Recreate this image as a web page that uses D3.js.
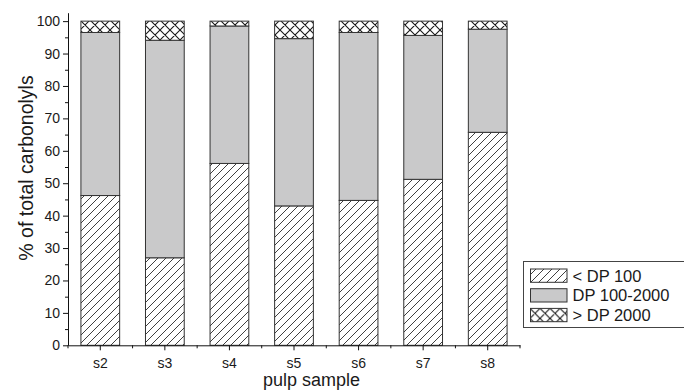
<!DOCTYPE html>
<html>
<head>
<meta charset="utf-8">
<script src="https://cdn.jsdelivr.net/npm/d3@7"></script>
<style>
  html, body { margin: 0; padding: 0; background: #fff; }
  svg { display: block; font-family: "Liberation Sans", Arial, sans-serif; }
</style>
</head>
<body>
<svg id="chart" width="684" height="390"></svg>
<script>
// Pulp samples and the share of carbonyls in each DP fraction (%)
const samples = ["s2", "s3", "s4", "s5", "s6", "s7", "s8"];
const lowDP   = [46.2, 27.0, 56.1, 43.0, 44.7, 51.2, 65.7];   // < DP 100
const midDP   = [50.3, 67.1, 42.4, 51.6, 51.8, 44.4, 31.8];   // DP 100-2000
const highDP  = [3.5, 5.9, 1.5, 5.4, 3.5, 4.4, 2.5];          // > DP 2000
const seriesNames = ["< DP 100", "DP 100-2000", "> DP 2000"];
const yMajorTicks = [0, 10, 20, 30, 40, 50, 60, 70, 80, 90, 100];
const yMinorTicks = [5, 15, 25, 35, 45, 55, 65, 75, 85, 95];

const svg = d3.select("#chart");

// Fill patterns
const defs = svg.append("defs");
const hatch = defs.append("pattern")
  .attr("id", "hatch").attr("patternUnits", "userSpaceOnUse")
  .attr("width", 8).attr("height", 8);
hatch.append("rect").attr("width", 8).attr("height", 8).attr("fill", "#fff");
hatch.append("path")
  .attr("d", "M-2,2 L2,-2 M0,8 L8,0 M6,10 L10,6")
  .attr("stroke", "#2a2a2a").attr("stroke-width", 0.9);

const cross = defs.append("pattern")
  .attr("id", "cross").attr("patternUnits", "userSpaceOnUse")
  .attr("width", 10).attr("height", 10);
cross.append("rect").attr("width", 10).attr("height", 10).attr("fill", "#fff");
cross.append("path")
  .attr("d", "M-2.5,2.5 L2.5,-2.5 M0,10 L10,0 M7.5,12.5 L12.5,7.5 M-2.5,7.5 L2.5,12.5 M0,0 L10,10 M7.5,-2.5 L12.5,2.5")
  .attr("stroke", "#1a1a1a").attr("stroke-width", 1.1);

const fills = ["url(#hatch)", "#c9c9ca", "url(#cross)"];

// Scales
const x = d3.scaleBand().domain(samples).range([68, 520])
  .paddingInner(0.4).paddingOuter(0.2);
const y = d3.scaleLinear().domain([0, 102.6]).range([345.3, 12.7]);

// Stacked data
const rows = samples.map((s, i) => ({ sample: s, low: lowDP[i], mid: midDP[i], high: highDP[i] }));
const stack = d3.stack().keys(["low", "mid", "high"])(rows);

const layers = svg.append("g").selectAll("g")
  .data(stack).join("g")
  .attr("fill", (d, i) => fills[i]);

layers.selectAll("rect")
  .data(d => d).join("rect")
  .attr("x", d => x(d.data.sample))
  .attr("width", x.bandwidth())
  .attr("y", d => y(d[1]))
  .attr("height", d => y(d[0]) - y(d[1]))
  .attr("stroke", "#333")
  .attr("stroke-width", 1);

// Axes
const axisColor = "#111";
svg.append("g").attr("transform", `translate(${x.range()[0]},0)`)
  .call(d3.axisLeft(y).tickValues(yMajorTicks).tickSize(5).tickSizeOuter(0).tickPadding(3));
svg.append("g").attr("transform", `translate(${x.range()[0]},0)`)
  .call(d3.axisLeft(y).tickValues(yMinorTicks).tickSize(3).tickSizeOuter(0).tickFormat(""))
  .select(".domain").remove();

svg.append("g").attr("transform", `translate(0,${y(0)})`)
  .call(d3.axisBottom(x).tickSize(5).tickSizeOuter(0).tickPadding(8));

// Minor ticks on the category boundaries
const bounds = d3.range(samples.length + 1)
  .map(i => x(samples[0]) + x.bandwidth() / 2 - x.step() / 2 + i * x.step());
svg.append("g").selectAll("line").data(bounds).join("line")
  .attr("x1", d => d).attr("x2", d => d)
  .attr("y1", y(0)).attr("y2", y(0) + 3)
  .attr("stroke", axisColor).attr("stroke-width", 1);

svg.selectAll(".domain, .tick line").attr("stroke", axisColor);
svg.selectAll(".tick text").attr("font-size", 14).attr("fill", "#1a1a1a")
  .attr("font-family", "Liberation Sans, Arial, sans-serif");

// Axis titles
svg.append("text")
  .attr("x", 311.5).attr("y", 386)
  .attr("text-anchor", "middle").attr("font-size", 18).attr("fill", "#1a1a1a")
  .text("pulp sample");
svg.append("text")
  .attr("transform", "translate(33,168) rotate(-90)")
  .attr("text-anchor", "middle").attr("font-size", 19.5).attr("fill", "#1a1a1a")
  .text("% of total carbonolyls");

// Legend
const legend = svg.append("g");
legend.append("rect")
  .attr("x", 523.5).attr("y", 261.5).attr("width", 170).attr("height", 66)
  .attr("fill", "#fff").attr("stroke", "#444").attr("stroke-width", 1);
const items = legend.selectAll("g.item").data(seriesNames).join("g")
  .attr("class", "item")
  .attr("transform", (d, i) => `translate(0,${269 + i * 19.7})`);
items.append("rect")
  .attr("x", 530.5).attr("y", 0).attr("width", 36.5).attr("height", 13.3)
  .attr("fill", (d, i) => fills[i]).attr("stroke", "#333").attr("stroke-width", 1);
items.append("text")
  .attr("x", 572.5).attr("y", 12.6)
  .attr("font-size", 16.5).attr("fill", "#1a1a1a")
  .text(d => d);
</script>
</body>
</html>
